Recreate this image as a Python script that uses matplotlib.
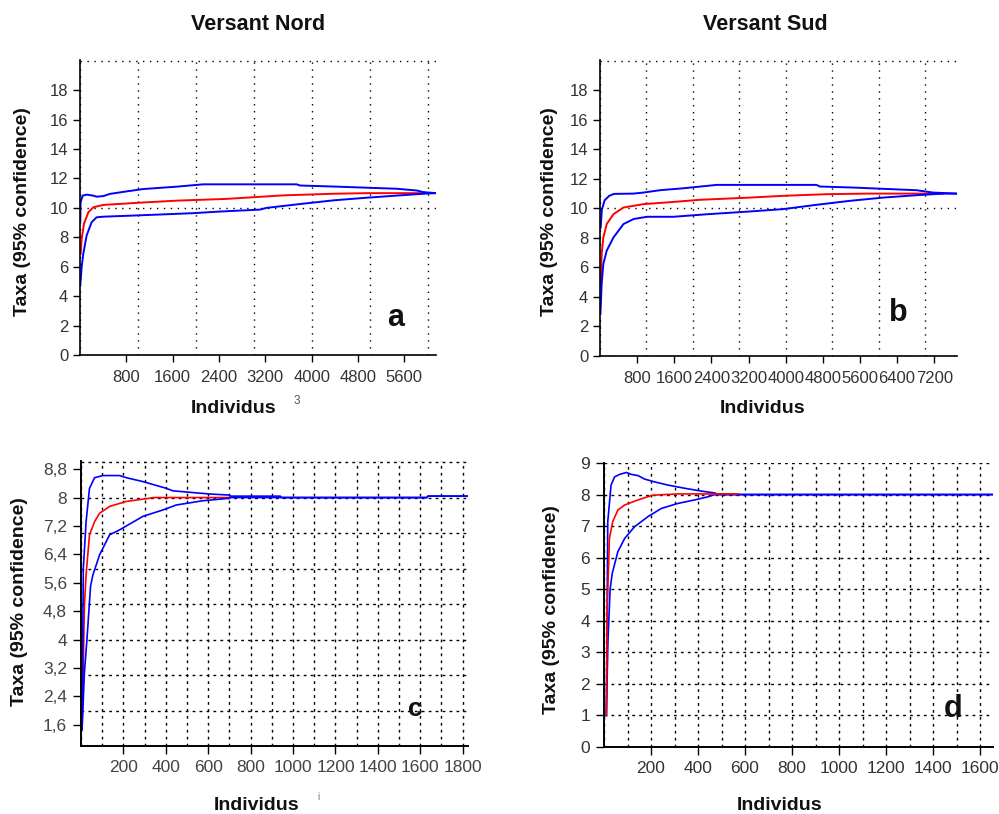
import matplotlib
matplotlib.use("Agg")
from matplotlib import pyplot as plt
from matplotlib.ticker import MultipleLocator, FixedLocator

plt.rcParams['font.family'] = ['Liberation Sans', 'DejaVu Sans']

# --- panel a : Versant Nord (rarefaction, all individuals)
a_up_x = [5, 10, 46, 115, 230, 287, 402, 517, 805, 1092, 1667, 2126, 3741, 3798, 4374, 5467, 5813, 5928, 6146]
a_up_y = [9.14, 10.38, 10.83, 10.9, 10.83, 10.76, 10.8, 10.95, 11.12, 11.28, 11.44, 11.6, 11.6, 11.52, 11.45, 11.3, 11.18, 11.07, 11.0]
a_mid_x = [11, 29, 69, 144, 230, 402, 977, 1667, 2529, 3103, 3511, 4374, 4949, 5928]
a_mid_y = [6.89, 7.9, 8.92, 9.7, 10.04, 10.2, 10.34, 10.49, 10.61, 10.75, 10.85, 10.96, 11.0, 11.0]
a_lo_x = [5, 29, 57, 115, 201, 287, 402, 1264, 1954, 2414, 3103, 3223, 3798, 4374, 4949, 5525, 5928, 6146]
a_lo_y = [4.75, 5.99, 6.89, 8.13, 9.03, 9.36, 9.4, 9.53, 9.64, 9.75, 9.88, 10.0, 10.26, 10.51, 10.69, 10.85, 10.96, 11.0]

# --- panel b : Versant Sud
b_up_x = [15, 40, 100, 200, 300, 718, 933, 1292, 1794, 2511, 4664, 4736, 5453, 6816, 7175, 7677]
b_up_y = [8.7, 9.9, 10.55, 10.85, 10.98, 11.0, 11.07, 11.23, 11.36, 11.59, 11.59, 11.48, 11.41, 11.23, 11.07, 11.0]
b_mid_x = [15, 36, 72, 145, 290, 507, 942, 1435, 2153, 3229, 3946, 4879, 5740, 7390]
b_mid_y = [4.89, 6.91, 8.03, 8.94, 9.61, 10.06, 10.29, 10.4, 10.58, 10.73, 10.85, 10.96, 11.0, 11.0]
b_lo_x = [10, 36, 72, 145, 290, 507, 725, 1015, 1579, 2296, 3229, 3946, 4664, 5381, 6099, 6816, 7390, 7677]
b_lo_y = [2.9, 4.89, 6.24, 7.14, 8.03, 8.94, 9.28, 9.43, 9.43, 9.6, 9.79, 9.95, 10.24, 10.51, 10.73, 10.89, 11.0, 11.0]

# --- panel c
c_up_x = [5, 11, 24, 40, 64, 103, 182, 213, 292, 402, 433, 606, 700, 705, 940, 945, 1632, 1636, 1828]
c_up_y = [1.46, 6.01, 7.32, 8.26, 8.56, 8.62, 8.62, 8.56, 8.45, 8.26, 8.19, 8.1, 8.07, 8.04, 8.04, 8.0, 8.0, 8.04, 8.04]
c_mid_x = [5, 16, 24, 40, 64, 88, 135, 213, 323, 340, 700]
c_mid_y = [1.46, 4.94, 5.82, 6.95, 7.32, 7.56, 7.75, 7.89, 7.98, 8.0, 8.0]
c_lo_x = [5, 16, 28, 45, 56, 88, 135, 182, 292, 386, 449, 574, 700, 705, 1632, 1636, 1828]
c_lo_y = [1.46, 3.06, 4.0, 5.5, 5.82, 6.39, 6.95, 7.09, 7.47, 7.65, 7.79, 7.91, 7.98, 8.0, 8.0, 8.04, 8.04]

# --- panel d
d_up_x = [10, 16, 30, 45, 67, 95, 116, 145, 173, 216, 272, 343, 414, 471, 490, 1652]
d_up_y = [1.0, 7.14, 8.3, 8.56, 8.64, 8.7, 8.64, 8.6, 8.49, 8.4, 8.3, 8.2, 8.11, 8.05, 8.0, 8.0]
d_mid_x = [10, 14, 23, 37, 59, 88, 130, 173, 208, 315, 570]
d_mid_y = [1.0, 4.45, 6.61, 7.14, 7.51, 7.67, 7.79, 7.9, 7.98, 8.02, 8.02]
d_lo_x = [10, 17, 26, 35, 59, 88, 130, 187, 244, 315, 386, 443, 471, 1652]
d_lo_y = [1.0, 3.4, 5.0, 5.5, 6.19, 6.61, 6.98, 7.3, 7.56, 7.72, 7.83, 7.93, 8.0, 8.0]

ab_xticks = [800, 1600, 2400, 3200, 4000, 4800, 5600]
b_xticks = [800, 1600, 2400, 3200, 4000, 4800, 5600, 6400, 7200]
ab_yticks = [0, 2, 4, 6, 8, 10, 12, 14, 16, 18]
c_xticks = [200, 400, 600, 800, 1000, 1200, 1400, 1600, 1800]
c_yticks = [1.6, 2.4, 3.2, 4.0, 4.8, 5.6, 6.4, 7.2, 8.0, 8.8]
c_ylabels = ["1,6", "2,4", "3,2", "4", "4,8", "5,6", "6,4", "7,2", "8", "8,8"]
d_xticks = [200, 400, 600, 800, 1000, 1200, 1400, 1600]
d_yticks = [0, 1, 2, 3, 4, 5, 6, 7, 8, 9]

W, H = 999, 814
fig = plt.figure(figsize=(W / 100, H / 100), dpi=100)


def px_axes(left, top, right, bottom):
    return fig.add_axes([left / W, 1 - bottom / H, (right - left) / W, (bottom - top) / H])


def px_text(x, y, s, **kw):
    fig.text(x / W, 1 - y / H, s, ha="center", va="center", **kw)


def style(ax, gx, gy, gridstyle, tsize, tcolor, spw):
    for side in ["top", "right"]:
        ax.spines[side].set_visible(False)
    for side in ["left", "bottom"]:
        ax.spines[side].set_linewidth(spw)
    ax.xaxis.remove_overlapping_locs = False
    ax.yaxis.remove_overlapping_locs = False
    ax.xaxis.set_minor_locator(MultipleLocator(gx))
    ax.yaxis.set_minor_locator(MultipleLocator(gy))
    ax.grid(which="minor", color="black", linestyle=gridstyle, linewidth=1.0, zorder=0)
    ax.tick_params(which="minor", length=0)
    ax.tick_params(which="major", direction="out", length=5, width=1, colors="black",
                   labelcolor=tcolor, labelsize=tsize)
    ax.set_axisbelow(True)


# panel a
ax = px_axes(80, 60, 436, 355)
ax.plot(a_mid_x, a_mid_y, color="#ff0000", lw=1.4)
ax.plot(a_up_x, a_up_y, color="#0000ff", lw=1.4)
ax.plot(a_lo_x, a_lo_y, color="#0000ff", lw=1.4)
ax.set_xlim(0, 6146)
ax.set_ylim(0, 20.05)
ax.set_xticks(ab_xticks)
ax.set_yticks(ab_yticks)
style(ax, 1000, 10, (0, (1, 4)), 12, "#333333", 1.2)
ax.tick_params(axis="x", pad=6)

# panel b
ax = px_axes(600, 60, 957, 356)
ax.plot(b_mid_x, b_mid_y, color="#ff0000", lw=1.4)
ax.plot(b_up_x, b_up_y, color="#0000ff", lw=1.4)
ax.plot(b_lo_x, b_lo_y, color="#0000ff", lw=1.4)
ax.set_xlim(0, 7690)
ax.set_ylim(0, 20.05)
ax.set_xticks(b_xticks)
ax.set_yticks(ab_yticks)
style(ax, 1000, 10, (0, (1, 4)), 12, "#333333", 1.2)
ax.tick_params(axis="x", pad=6)

# panel c
ax = px_axes(81, 461, 468, 746)
ax.plot(c_mid_x, c_mid_y, color="#ff0000", lw=1.2)
ax.plot(c_up_x, c_up_y, color="#0000ff", lw=1.2)
ax.plot(c_lo_x, c_lo_y, color="#0000ff", lw=1.2)
ax.set_xlim(0, 1825)
ax.set_ylim(1.0, 9.03)
ax.yaxis.set_major_locator(FixedLocator(c_yticks))
ax.set_yticklabels(c_ylabels)
ax.set_xticks(c_xticks)
style(ax, 100, 1, (0, (2, 3)), 12.5, "#444444", 1.4)
ax.tick_params(which="major", length=6, pad=4)

# panel d
ax = px_axes(604, 463, 993, 747)
ax.plot(d_up_x, d_up_y, color="#0000ff", lw=1.2)
ax.plot(d_lo_x, d_lo_y, color="#0000ff", lw=1.2)
ax.plot(d_mid_x, d_mid_y, color="#ff0000", lw=1.2)
ax.set_xlim(0, 1655)
ax.set_ylim(0, 9)
ax.set_xticks(d_xticks)
ax.set_yticks(d_yticks)
style(ax, 100, 1, (0, (2, 3)), 12.5, "#333333", 1.4)
ax.tick_params(which="major", length=6, pad=4)

# texts
bold = dict(fontweight="bold", color="#111111")
px_text(258, 25, "Versant Nord", fontsize=15.5, **bold)
px_text(765, 25, "Versant Sud", fontsize=15.5, **bold)
for x, y in [(23, 212), (549, 212), (20, 602), (552, 610)]:
    px_text(x, y, "Taxa (95% confidence)", fontsize=14, rotation=90, **bold)
for x, y in [(234, 409), (763, 409), (257, 805), (780, 806)]:
    px_text(x, y, "Individus", fontsize=14, **bold)
px_text(396, 318, "a", fontsize=22, **bold)
px_text(898, 313, "b", fontsize=22, **bold)
px_text(415, 709, "c", fontsize=19, **bold)
px_text(953, 709, "d", fontsize=22, **bold)
px_text(297, 401, "3", fontsize=8.5, color="#555555")
px_text(318, 797, "i", fontsize=7, color="#777777")

fig.savefig("out.png", dpi=100)
